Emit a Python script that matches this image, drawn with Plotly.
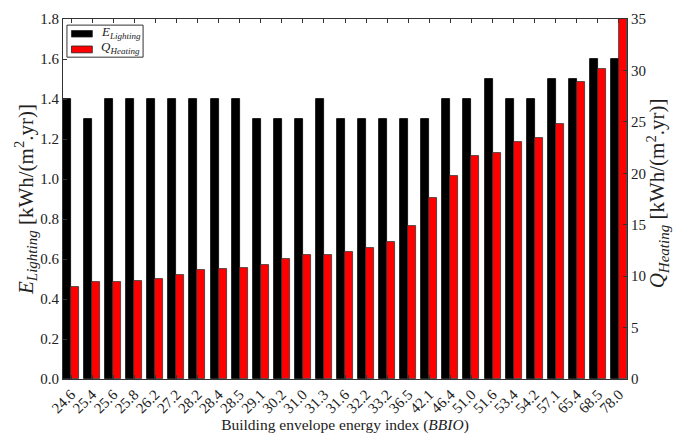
import numpy as np
import plotly.graph_objects as go

bbio = ["24.6", "25.4", "25.6", "25.8", "26.2", "27.2", "28.2", "28.4", "28.5",
        "29.1", "30.2", "31.0", "31.3", "31.6", "32.2", "33.2", "36.5", "42.1",
        "46.4", "51.0", "51.6", "53.4", "54.2", "57.1", "65.4", "68.5", "78.0"]
e_lighting = [1.4, 1.3, 1.4, 1.4, 1.4, 1.4, 1.4, 1.4, 1.4,
              1.3, 1.3, 1.3, 1.4, 1.3, 1.3, 1.3, 1.3, 1.3,
              1.4, 1.4, 1.5, 1.4, 1.4, 1.5, 1.5, 1.6, 1.6]
q_heating = [8.9, 9.4, 9.4, 9.5, 9.75, 10.1, 10.55, 10.65, 10.75,
             11.1, 11.7, 12.1, 12.1, 12.3, 12.7, 13.3, 14.9, 17.6,
             19.75, 21.7, 22.0, 23.0, 23.4, 24.8, 28.9, 30.1, 35.0]
series_names = ["E", "Q"]
series_subs = ["Lighting", "Heating"]
series_colors = ["#000000", "#ff0000"]

W = 0.38
ind = np.arange(len(bbio))
FONT = "Liberation Serif"
TXT = "#222222"


def label(main, sub, subsize):
    return (f"<i>{main}</i><sub><span style='font-size:{subsize}px'><i>{sub}</i>"
            f"</span></sub>")


fig = go.Figure()
fig.add_trace(go.Bar(
    x=ind + W / 2, y=e_lighting, width=W, name="E Lighting",
    marker=dict(color=series_colors[0], line=dict(color="#000000", width=0.8)),
    yaxis="y", showlegend=False,
))
fig.add_trace(go.Bar(
    x=ind + 1.5 * W, y=q_heating, width=W, name="Q Heating",
    marker=dict(color=series_colors[1], line=dict(color="#333333", width=0.8)),
    yaxis="y2", showlegend=False,
))

axis_common = dict(showgrid=False, zeroline=False, showline=True,
                   linecolor="#333333", linewidth=1, ticks="inside",
                   ticklen=4, tickcolor="#333333", automargin=False,
                   tickfont=dict(family=FONT, size=15, color=TXT))

# custom legend (box, swatches, texts) in plot-area fractions
shapes = [dict(type="rect", xref="paper", yref="paper",
               x0=0.007, x1=0.142, y0=0.894, y1=0.983,
               line=dict(color="#333333", width=1), fillcolor="white")]
annotations = []
sw_y = [(0.95, 0.968), (0.906, 0.925)]
for k in range(2):
    shapes.append(dict(type="rect", xref="paper", yref="paper",
                       x0=0.015, x1=0.052, y0=sw_y[k][0], y1=sw_y[k][1],
                       line=dict(color="#222222", width=0.8),
                       fillcolor=series_colors[k]))
    annotations.append(dict(xref="paper", yref="paper", x=0.064,
                            y=(sw_y[k][0] + sw_y[k][1]) / 2 + 0.004,
                            xanchor="left", yanchor="middle", showarrow=False,
                            text=label(series_names[k], series_subs[k], 9),
                            font=dict(family=FONT, size=13, color=TXT)))

unit = " [kWh/(m<sup>2</sup>.yr)]"
annotations.append(dict(xref="paper", yref="paper", x=1.054, y=0.517,
                        xanchor="center", yanchor="middle", textangle=-90,
                        showarrow=False, text=label("Q", "Heating", 15) + unit,
                        font=dict(family=FONT, size=21, color=TXT)))

# page body adds an 8px offset, so the figure is 8px smaller than the window
fig.update_layout(
    width=673, height=427,
    margin=dict(l=55, r=54, t=11, b=56),
    plot_bgcolor="white", paper_bgcolor="white",
    barmode="overlay", bargap=0,
    font=dict(family=FONT, color=TXT),
    shapes=shapes, annotations=annotations, showlegend=False,
    xaxis=dict(
        **axis_common, mirror="ticks", range=[0, len(bbio) - 1 + 2 * W],
        tickmode="array", tickvals=ind + W, ticktext=bbio, tickangle=-45,
        title=dict(text="Building envelope energy index (<i>BBIO</i>)",
                   font=dict(family=FONT, size=15.5, color=TXT), standoff=0),
    ),
    yaxis=dict(
        **axis_common, range=[0, 1.8], tickmode="array",
        tickvals=[0, 0.2, 0.4, 0.6, 0.8, 1.0, 1.2, 1.4, 1.6, 1.8],
        tickformat=".1f",
        title=dict(text=label("E", "Lighting", 15) + unit,
                   font=dict(family=FONT, size=21, color=TXT), standoff=0),
    ),
    yaxis2=dict(
        **axis_common, range=[0, 35], overlaying="y", side="right",
        tickmode="array", tickvals=[0, 5, 10, 15, 20, 25, 30, 35],
    ),
)

fig.write_html("out.html")
